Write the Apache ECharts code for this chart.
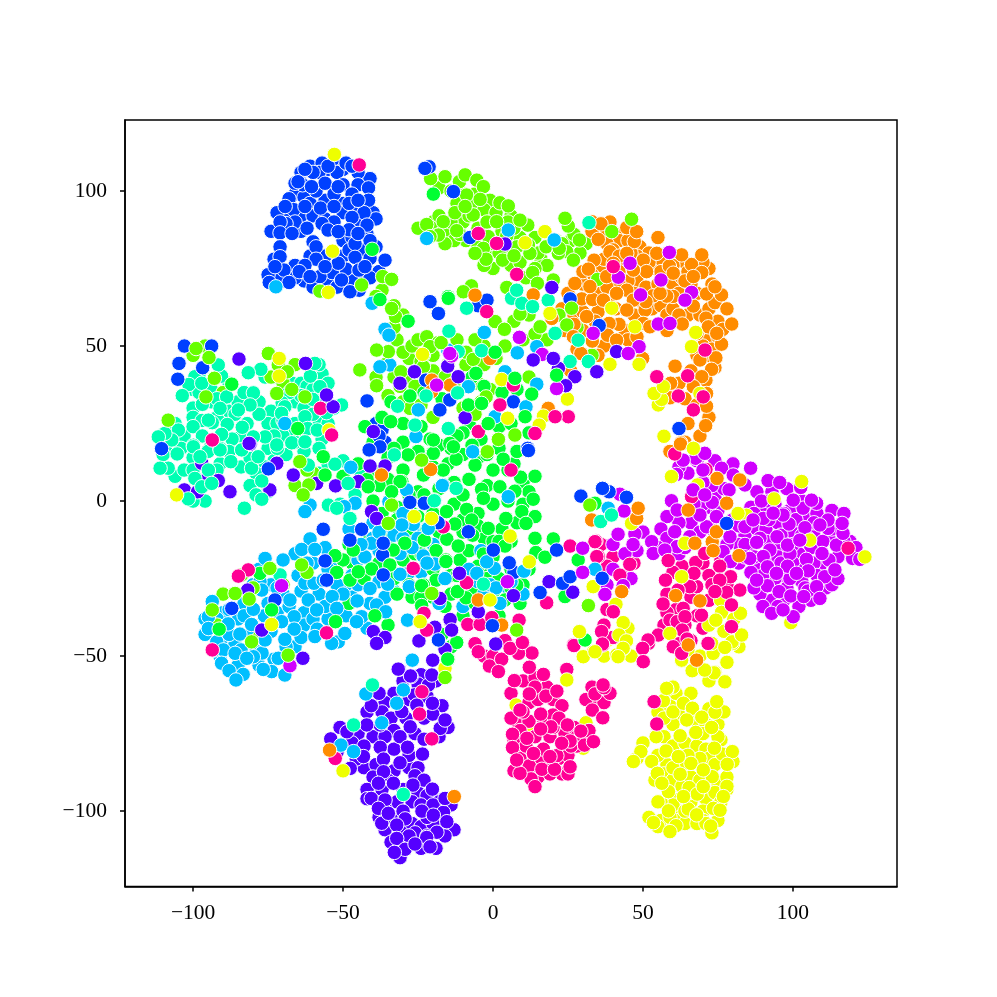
<!DOCTYPE html>
<html>
<head>
<meta charset="utf-8">
<script src="https://cdn.jsdelivr.net/npm/echarts@6/dist/echarts.min.js"></script>
<style>
  html, body { margin: 0; background: #fff; }
  #main { width: 997px; height: 997px; }
</style>
</head>
<body>
<div id="main"></div>
<script>
const xTicks = [-100, -50, 0, 50, 100];
const yTicks = [-100, -50, 0, 50, 100];

// points that sit under the others in the thick parts of each cluster
const blueDense = [[-64,106],[-61,108],[-57,109],[-53,109],[-50,107],[-44,104],[-41,104],[-66,99],[-63,98],[-61,96],[-56,97],[-50,96],[-46,94],[-40,93],[-69,93],[-64,92],[-60,92],[-56,91],[-50,93],[-44,90],[-39,91],[-72,93],[-74,87],[-68,87],[-64,87],[-50,84],[-47,85],[-42,86],[-73,78],[-70,71],[-72,72],[-66,76],[-61,79],[-56,79],[-53,72],[-50,79],[-48,81],[-43,81],[-38,74],[-39,82],[-44,71],[-41,72],[-63,71],[-60,69],[-55,70],[-52,69],[-47,71],[-75,73],[-66,72],[-39,25],[-37,23],[-40,18],[-36,19]];
const limeDense = [[-18,101],[-14,100],[-10,99],[-6,99],[-1,97],[-12,96],[-7,95],[-3,94],[1,93],[6,92],[-15,87],[-19,88],[-10,90],[-5,88],[-9,84],[-13,84],[-2,90],[3,87],[-5,82],[0,81],[6,76],[9,77],[9,85],[14,85],[16,78],[18,76],[21,84],[26,84],[31,83],[29,80],[5,81],[14,75],[11,72],[0,75],[2,80],[-25,88],[-16,83],[-3,76],[7,88],[-20,90],[-14,90],[-8,92],[-11,86],[-18,92],[5,90],[8,82],[15,80],[-1,83],[27,86],[23,83],
  [-35,55],[-32,52],[-28,46],[-24,45],[-20,47],[-15,44],[-12,52],[-3,50],[1,46],[-36,44],[-31,37],[-28,40],[-26,37],[-35,34],[-39,40],[-9,44],[-5,38],[-1,36],[-10,30],[-6,28],[-24,31],[-20,27],[4,50],[7,58],[12,60],[18,52],[10,52],[-30,60],[-37,68],[-39,66],[-33,56],[-33,63],[22,60],[28,56],[33,47],[-74,40],[-70,38],[-66,44],[-70,32],[-100,47],[-96,50],[-90,35],[-60,9],[-66,5],[-62,10],[-70,-27],[-62,-23],[-92,-40],[-80,-28],[-78,-44],[-90,-30],[-30,48],[-27,50],[-20,42],[-16,40],[-25,52],[-9,48],[-6,52],[-13,38],[-3,44],[-30,32],[-33,40],[12,40]];
const greenDense = [[-40,10],[-35,14],[-30,10],[-25,16],[-20,11],[-15,12],[-10,15],[-5,14],[0,10],[5,10],[10,6],[12,3],[-2,5],[-8,7],[-13,6],[-18,4],[-25,3],[-35,7],[-40,0],[-32,-2],[-27,-4],[-23,2],[-13,-1],[-10,2],[-5,-4],[0,-1],[5,0],[8,-7],[3,-9],[-3,-12],[-10,-10],[-18,-10],[-25,-5],[-30,-10],[-36,-9],[-42,-13],[-47,-20],[-43,-25],[-38,-20],[-30,-19],[-26,-17],[-19,-16],[-11,-19],[-8,-16],[-2,-21],[-7,-24],[-14,-24],[-20,-31],[-16,-34],[-27,-31],[-32,-30],[-7,-29],[-2,-25],[2,-25],[6,-22],[10,-27],[9,-33],[-35,-40],[-48,-33],[-10,-37],[-21,20],[-24,24],[-30,25],[-37,27],[-40,19],[-34,32],[-8,25],[-4,20],[-10,22],[2,24],[6,25],[12,22],[3,35],[8,36],[-3,37],[-7,40],[-17,33],[-23,35],[-14,17],[7,12],
  [-38,5],[-28,2],[-18,18],[-12,21],[-7,18],[-2,15],[2,17],[8,16],[14,8],[10,-1],[14,-5],[6,-13],[0,-13],[-5,-8],[-10,-6],[-20,-4],[-22,-9],[-32,-6],[-37,-4],[-28,-9],[-35,-12],[-24,-17],[-20,-22],[-28,-27],[-12,-24],[-5,-21],[0,-18],[2,-13],[-43,-18],[-48,-14],[-50,-19],[-33,-25],[-24,-31],[-14,-30],[-6,-33],[2,-37],[6,-28],[12,-22],[14,-12],[-17,-43],[-14,-47],[-30,19],[-33,17],[-45,12],[-42,7],[-50,8]];
const mintDense = [[-100,36],[-98,35],[-94,36],[-94,32],[-100,30],[-100,27],[-97,26],[-92,27],[-88,29],[-85,32],[-83,35],[-78,32],[-76,40],[-73,40],[-67,38],[-64,38],[-57,41],[-55,38],[-66,32],[-63,30],[-74,29],[-75,25],[-72,25],[-66,25],[-58,26],[-60,28],[-55,25],[-57,20],[-66,22],[-70,21],[-75,17],[-84,21],[-87,20],[-94,18],[-103,18],[-109,16],[-106,25],[-103,21],[-110,15],[-100,14],[-95,16],[-91,12],[-84,11],[-81,14],[-73,13],[-76,11],[-69,15],[-63,16],[-79,9],[-81,5],[-75,3],[-79,2],[-92,10],[-106,8],[-103,10],[-100,10],[-96,0],[-100,0],[-58,9],[-50,13],[-55,12],[-44,8],[-46,2],[-51,-1],[-58,44],[-62,37],[-57,33],[-60,36],[-98,41],[-88,38],[-86,28],[-78,28],[-70,26],[-64,34],[-53,30],[-104,17],[-88,16],[-82,25],[-100,24],[-92,33],[-68,35],[-73,21],[-66,19],[-58,17]];
const skyDense = [[-90,-44],[-86,-46],[-91,-50],[-85,-53],[-80,-46],[-78,-53],[-93,-48],[-96,-43],[-96,-38],[-90,-36],[-85,-38],[-83,-33],[-75,-33],[-72,-36],[-74,-42],[-68,-34],[-63,-36],[-63,-40],[-55,-38],[-49,-37],[-58,-30],[-65,-24],[-60,-20],[-66,-17],[-70,-19],[-56,-15],[-54,-20],[-49,-27],[-52,-27],[-47,-31],[-45,-27],[-41,-33],[-38,-26],[-33,-29],[-28,-23],[-24,-23],[-20,-14],[-25,-10],[-31,-17],[-36,-31],[-42,-41],[-40,-12],[-38,-16],[-45,-19],[-48,-9],[-78,-22],[-74,-27],[-80,-27],[-88,-35],[-84,-48],[-73,-51],[-66,-47],[-60,-38],[-18,-33],[-3,-30],[-1,-27],[-4,-16],[5,-28],[10,-30],[-10,-34],[-64,-29],[-70,-30],[-72,-28],[-81,-43],[-77,-49],[-88,-43],[-92,-38],[-83,-37],[-69,-47],[-64,-44],[-56,-34],[-50,-30],[-47,-24],[-55,-22],[-62,-20]];
const violetDense = [[-30,-58],[-24,-56],[-25,-59],[-19,-58],[-33,-62],[-28,-64],[-22,-63],[-36,-65],[-42,-68],[-37,-68],[-34,-70],[-29,-70],[-23,-70],[-17,-66],[-15,-73],[-18,-76],[-26,-75],[-33,-74],[-40,-76],[-45,-75],[-47,-78],[-51,-73],[-52,-81],[-43,-79],[-43,-86],[-39,-85],[-33,-80],[-33,-87],[-28,-86],[-40,-89],[-35,-90],[-30,-93],[-37,-93],[-25,-94],[-27,-97],[-22,-95],[-18,-97],[-14,-98],[-32,-97],[-42,-93],[-34,-102],[-38,-102],[-36,-106],[-30,-106],[-27,-104],[-24,-105],[-20,-104],[-13,-106],[-16,-108],[-26,-107],[-29,-110],[-24,-112],[-34,-110],[-31,-115],[-19,-112],[-22,-102],[-28,-82],[-31,-76],[-36,-76],[-24,-98],[-30,-100],[-28,-108],[-22,-108],[-20,-98],[-25,-86],[-42,-96],[-36,-99]];
const magentaDense = [[88,3],[93,3],[98,4],[103,0],[99,-3],[94,-1],[90,-3],[86,-2],[84,-11],[82,-14],[85,-15],[88,-9],[91,-9],[95,-7],[100,-10],[105,-5],[108,-4],[113,-3],[117,-4],[119,-13],[121,-15],[115,-18],[112,-12],[107,-11],[106,-15],[102,-17],[95,-15],[93,-20],[88,-21],[96,-24],[100,-20],[103,-26],[106,-32],[111,-28],[113,-27],[115,-25],[109,-21],[98,-28],[93,-32],[89,-30],[97,-32],[102,-34],[104,-28],[94,-25],[90,-24],[84,-14],[80,-6],[82,-8],[87,-18],[82,-20],[110,-13],[113,-9],[107,-20],[96,-11],[92,-6],[101,-6],[105,-12],[95,-18],[87,-4],[74,1],[77,4],[73,5],[70,6],[65,9],[62,11],[68,13],[74,13],[80,12],[72,-2],[75,-3],[70,-1],[67,-1],[66,-7],[62,-7],[58,-5],[56,-9],[58,-12],[55,-15],[62,-17],[64,-15],[69,-10],[73,-9],[78,-14],[50,-10],[48,-16],[44,-17],[40,-14],[43,-24],[40,-22],[38,-27],[46,-25],[91,-13],[96,-20],[100,-14],[104,-22],[97,-4],[89,-12],[86,-23],[84,-18],[92,0],[99,-17],[108,-24],[112,-19],[117,-13],[107,-7],[103,-11],[99,-25],[95,-34],[90,-34],[105,-29],[87,-28]];
const pinkDense = [[6,-62],[10,-58],[14,-57],[18,-60],[20,-64],[23,-66],[12,-65],[8,-71],[12,-71],[17,-71],[20,-69],[24,-75],[27,-73],[31,-75],[10,-80],[9,-74],[14,-76],[19,-76],[22,-83],[25,-82],[14,-84],[18,-85],[9,-83],[11,-88],[15,-89],[23,-88],[25,-88],[6,-70],[7,-77],[28,-79],[32,-74],[35,-65],[31,-64],[37,-65],[33,-60],[39,-62],[10,-46],[4,-45],[-3,-50],[0,-50],[-6,-46],[13,-49],[66,-24],[63,-21],[70,-20],[72,-24],[73,-27],[78,-27],[76,-19],[60,-23],[58,-30],[61,-35],[58,-36],[66,-31],[68,-37],[64,-40],[60,-41],[66,-45],[62,-46],[72,-32],[70,-41],[57,-40],[47,-20],[40,-18],[38,-21],[36,-14],[38,-35],[37,-40],[40,-44],[11,-79],[20,-73],[26,-79],[19,-88],[16,-83],[10,-68],[15,-64],[22,-70],[28,-76],[7,-87],[14,-60]];
const orangeDense = [[38,87],[41,86],[42,84],[38,83],[43,77],[45,84],[49,82],[52,80],[48,79],[54,75],[56,78],[60,79],[64,77],[68,75],[72,75],[60,70],[63,72],[56,74],[48,71],[51,69],[45,71],[42,74],[36,74],[33,73],[30,70],[25,67],[23,62],[27,60],[30,61],[35,61],[36,67],[39,64],[41,62],[47,60],[50,64],[53,62],[56,63],[58,60],[60,62],[65,60],[69,60],[72,62],[74,64],[78,62],[68,67],[73,70],[75,58],[72,52],[70,50],[68,47],[72,47],[74,43],[71,39],[66,42],[62,38],[64,33],[68,31],[72,27],[69,21],[65,25],[44,55],[42,57],[37,50],[30,55],[24,55],[28,49],[35,47],[45,52],[48,53],[58,55],[33,87],[55,85],[66,70],[62,67],[64,19],[59,16],[40,81],[46,80],[52,77],[60,76],[65,74],[70,77],[47,67],[55,70],[42,70],[38,69],[27,57],[34,58],[62,60],[71,59],[75,53],[73,49],[64,71],[30,74],[39,90],[37,78],[60,66],[68,54]];
const yellowDense = [[24.6,-57.5],[7.7,-65.8],[11.8,-72],[31,-71.5],[11.8,-80.8],[30.1,-79.7],[55,-68],[59,-66],[61,-62],[66,-62],[62,-69],[68,-71],[71,-72],[75,-72],[72,-67],[77,-68],[60,-72],[57,-76],[60,-79],[64,-78],[68,-79],[71,-80],[76,-84],[80,-84],[72,-83],[69,-83],[63,-85],[58,-85],[55,-82],[50,-78],[57,-88],[60,-90],[60,-96],[63,-92],[66,-89],[71,-96],[75,-91],[78,-89],[74,-94],[78,-93],[66,-97],[70,-100],[62,-100],[62,-103],[56,-103],[55,-105],[52,-102],[64,-104],[70,-103],[75,-103],[73,-107],[68,-104],[60,-98],[56,-97],[54,-90],[48,-83],[76,-77],[78,-92],[60,-60],[72,-58],[78,-52],[82,-47],[69,-50],[65,-48],[77,-42],[72,-40],[45,-41],[38,-45],[37,-50],[46,-50],[60,-86],[65,-82],[69,-90],[66,-94],[74,-85],[76,-97],[59,-102],[64,-100],[71,-104],[55,-97],[57,-70],[70,-75],[75,-76],[60,-68]];

const blue = [[-55,107],[-52,106],[-45,106],[-58,106],[-60,106],[-50,102],[-45,102],[-63.5,102],[-66,102.5],[-65,103],[-59,100],[-53,99],[-47,99],[-41.5,101],[-68,97.5],[-66.5,94],[-57.5,94.5],[-53,95],[-41.5,97],[-43,93],[-53,90],[-47,91.5],[-42,89],[-48,87.5],[-66,90],[-69,89.5],[-71,90],[-71,86.5],[-62,88],[-57,89.5],[-60,83.6],[-59,82],[-46,83],[-71,82],[-71,78.8],[-59,78],[-62.7,76],[-46,78.6],[-41,78.3],[-36,77.7],[-49,74.8],[-44.7,74.5],[-69.7,74.5],[-64.6,74],[-53.6,73.7],[-57.7,72.4],[-74.6,70.5],[-68,70.5],[-44.6,68],[-47.7,67.5],[-72.7,75.6],[-41,84],[-51.6,76.7],[-42.7,75.6],[-56,75.6],[-61,72.4],[-50.5,71.3],[-55,108],[-49,109],[-62.7,107],[-47,108],[-56,102.5],[-51.6,101.4],[-60.5,101.4],[-48,96],[-45,97],[-62.7,95],[-69.3,95],[-55,87.4],[-51.6,86.9],[-45,86.3],[-67,86.3],
  [-102.9,50],[-93.8,50],[-104.7,44.4],[-105.1,39.3],[-96.8,43],[-110.5,16.9],[-42,32.3],[-38,21],[-14.4,32.6],[-17.7,29.4],[-21,64.3],[-18.2,60.5],[-21.3,107.8],[-22.7,107.3],[-22.4,39],[-7.7,85],[-13.2,99.8],[25.7,65.2],[-5,63],[-2,64.8],[35.4,56.6],[6.8,32],[11.6,17],[62,23.4],[-56.6,-9.1],[-43.8,-9.1],[-56,-19.3],[-55.5,-25.5],[-36.8,-17.4],[-36.6,-23.8],[-87.1,-34.6],[-72.7,-31.9],[-27.7,-0.4],[-22.9,-0.7],[-18.3,-7],[-74.9,10.4],[-37.7,17.5],[-41.3,16.5],[-47.7,-12.6],[-36.6,-13.6],[11.8,16.3],[29.3,1.6],[7,-23],[5.4,-19.9],[23.2,-26.5],[15.7,-29.5],[-0.2,-40.2],[21.2,-15.8],[-18.2,-44.8],[25.7,-24.4],[0.1,-15.8],[-8.2,-9.9],[38.7,3],[44.5,1.2],[36.5,4.1],[36.4,-24.9],[77.9,-7.2]];

const lime = [[-16,104.6],[-20.8,104],[-11.2,103],[-9.3,105.2],[-5.4,103.5],[-3.2,101.4],[-8.8,98.7],[-4.3,97.3],[2.3,96.2],[5.1,95.2],[-12.7,93],[-16.6,90.1],[-6.6,92.3],[-9.3,95],[-22.1,89.2],[-18.2,85.8],[-12.1,87.2],[-21,85.3],[1.2,90.1],[-1.6,85.3],[-3.2,81.5],[-2.3,78],[-6,79.9],[3.2,77.7],[7,79.1],[4.6,85.6],[11.6,89],[9,90.6],[11.8,82.6],[12.3,79.9],[17.7,82],[25.1,88.7],[24,91.2],[28.8,84.2],[24.6,80.4],[26.8,77.7],[21.8,79.9],[22.1,81.5],[46.2,90.9],[39.6,86.9],[13.2,73.7],[14.8,70.2],[4.6,68.9],[34.9,71.5],[-7.2,69.4],[-9.9,67.5],[20.1,71.3],[24.6,56.8],[14,53.9],[0.7,57.9],[3.8,55.4],[-23.2,47.1],[-23.2,43.3],[-22.1,53],[-18.2,51.1],[-6.6,45.7],[-27.7,29.9],[-4,32],[-2.3,33.6],[9,60.3],[1.8,19.9],[7.3,21.3],[-21,49.8],[15.7,56.2],[26.2,62.2],
  [-36.8,72.4],[-33.8,71.5],[-43.8,69.7],[-57.7,67.7],[-32.5,59.5],[-33.8,62.1],[-34.9,48.2],[-38.8,48.7],[-44.4,42.3],[-30.7,41.7],[-38.8,37.2],[-17.3,51.1],[-74.9,47.6],[-71.6,43.9],[-68.6,41.7],[-67.1,36],[-72.1,34.7],[-99,49.2],[-94.7,46.3],[-95.7,33.6],[-108.3,26.1],[-92.9,39.6],[-62.7,33.6],[-1.9,15.9],[-20.4,-29.8],[7.9,-41.6],[-16,-56.9],[31.8,-33.7],[-23.8,13.2],[32.3,-1.3],[-64.4,12.7],[-61.4,5.2],[-63.3,2],[-34.9,-7.2],[-63.8,-20.6],[-83.8,-23.8],[-74.4,-21.7],[-86,-29.8],[-81.3,-31.6],[-93.6,-35.1],[-80.5,-45.4],[-68.3,-49.7],[-33.8,-1.3]];

const green = [[-20.2,15.4],[-12.3,13.5],[-6,11.6],[3.4,13.5],[9.2,7.7],[13.4,0.6],[7.3,3.2],[2.3,4.6],[-3.8,3.8],[-3.2,0.9],[-16.9,10],[-23.2,8.4],[-30.4,6.3],[-15.4,-3.4],[-8.8,-2.7],[-7.1,-6.1],[-12.7,-7.4],[-1.6,-8.8],[4.3,-5.6],[9.6,-3.4],[11,-7.2],[-6.8,-11],[-15.4,-12.3],[-22.7,-12.6],[-11.6,-14.5],[-26.6,-13.4],[-15.7,-19],[-3.2,-17.1],[4,-14.5],[20.1,-12.2],[14.3,-16.6],[17.3,-18.1],[-19,-25.5],[-23.2,-27.1],[-9,-31.2],[-11.9,-29.2],[-23.8,-33.7],[-12.1,-45.6],[-14.9,-51],[0.7,-31.4],[4,-31.9],[30.7,-44.8],[34,-0.7],[28.4,-19],[24,-30.8],[7.9,-27.1],
  [-19.9,15.4],[-28.3,14.9],[-16.6,10],[-31,6.3],[-33.8,3],[-41.6,4.6],[-15.5,-3.4],[-29.4,-13.6],[-33.3,-15.8],[-22.9,-12.6],[-52.7,-17.6],[-46.6,-15.8],[-52.1,-23],[-40.5,-21.9],[-47.7,-25.5],[-44.9,-22.8],[-34.4,-20.6],[-23.8,-27.3],[-39.4,-37],[-52.5,-38.9],[-15.7,-19.5],[-73.8,-35.1],[-91.3,-41.3],[-77.7,-23.3],[-15.1,-51],[-56.6,14.3],[-56,8.4],
  [-40.3,81.2],[-37.7,65],[-28.3,58],[-27.7,33.9],[-34.1,25.6],[-42.7,24],[-19.9,19.7],[-14.4,18.6],[-15,65.9],[-19.9,99],[-65.1,23.4],[-87.1,37.7],[-14.9,65.4],[0.7,48],[-5.7,41.2],[-8.2,31],[-1.6,25],[10.7,27.2],[12.9,34.5],[7.3,39.6],[-13.2,17.5],[21.2,40.6],[-3.8,31.5]];

const mint = [[-99.4,40.1],[-101.4,37.6],[-103.6,34],[-96.9,31.2],[-90.5,40.3],[-88.8,33.6],[-79.9,34.9],[-81,31],[-91,29.9],[-93.6,25.3],[-88.6,24.7],[-83.6,23.8],[-96.9,21],[-90.5,21.5],[-104.9,22.9],[-107.1,19.7],[-99.9,18],[-91,17],[-77.4,42.5],[-81.6,41.4],[-60.9,40.3],[-57.7,36.9],[-60.1,32.8],[-70.3,31.7],[-62.7,27.2],[-69.4,30.4],[-61.8,23.4],[-58.6,22.9],[-55.5,28.5],[-50.5,31],[-67.1,18.8],[-76,20.7],[-79.9,20.7],[-71.9,17],[-62.7,19.1],[-84.9,29.4],[-94.9,26.1],[-109.4,21.8],[-111.6,20.7],[-59.4,44.4],[-91.6,43.9],[-97.1,38],[-70.5,28.3],
  [-105.3,15.2],[-108.3,10.6],[-111,10.6],[-99.9,17.5],[-91,16.5],[-87.4,12.7],[-97.7,14.3],[-80.5,10.6],[-77.1,6.5],[-77.1,0.6],[-82.9,-2.3],[-101.6,0.7],[-94.9,10],[-83.8,16.5],[-78.3,14.3],[-72.1,18.1],[-61.6,11.6],[-52.7,11.9],[-48.3,5.7],[-54.9,-1.3],[-52.1,-2.3],[-47.7,-5.6],[-32.9,14.9],[-19.4,0.3],[-71,-23.8],[-99.4,7.3],[-97.1,4.6],[-93.8,5.7],
  [6.2,65.4],[9.6,63.8],[13.2,62.7],[18.4,64.8],[7.9,68],[20.7,54.1],[28.4,51.9],[25.7,45],[31.8,45],[-3.8,48.5],[-14.7,54.8],[-11.6,48.2],[-22.3,33.9],[-11.8,34.9],[-8.8,62.2],[-14.9,23.4],[-26,24.5],[32,89.8],[-31.8,30.6],[-12.3,4.1],[-19.6,0.1],[-3.2,-26.8],[35.9,-6.6],[39.5,-4.5],[-40.2,-59.3],[-46.5,-72.2],[-29.9,-94.6]];

const sky = [[-61,-12.2],[-63.8,-15.6],[-59.4,-15.6],[-76,-18.5],[-77.7,-26],[-77.1,-28.7],[-62.7,-26.5],[-59.7,-26.5],[-67.7,-31.9],[-61.6,-31.9],[-58.8,-35.1],[-53.6,-30.8],[-52.1,-34.6],[-56.6,-25.5],[-66.3,-37.3],[-66.3,-41.3],[-70.5,-38.9],[-58.6,-41.3],[-76.2,-37],[-79.9,-34.9],[-80.5,-39.8],[-84.4,-42.9],[-88.3,-39.6],[-93.6,-32.4],[-94.9,-37.3],[-94.9,-41.1],[-92.1,-45.4],[-89.9,-48],[-86,-49.1],[-79.9,-50.2],[-82.1,-50.7],[-90.5,-52.3],[-88,-54.7],[-83.3,-55.9],[-85.7,-57.7],[-73.8,-55],[-76.6,-54.3],[-69.4,-56.1],[-69.4,-44.6],[-71.6,-50.7],[-76,-44.8],[-51.6,-45.4],[-53.8,-45.9],[-59.4,-43.7],[-49.4,-42.7],[-43.8,-37.3],[-45.5,-38.9],[-45.3,-32.2],[-38.8,-33.5],[-35.8,-35.7],[-41,-28.2],[-35.1,-26.8],[-27.9,-27.6],[-31,-23.6],[-23.3,-17.7],[-19.4,-20.3],[-28.5,-38.4],[-27.1,-51.3],[-30.5,-7.5],[-26.6,-7.5],[-34.7,-0.2],[-46,-0.7],[-49.6,-1.8],[-47.4,10.9],[-61,-1.3],[-62.7,-3.4],[-16.6,5.2],[-28.8,3.6],[-40.5,-13.6],[-42.7,-18],
  [-35,-8],[-30,-4],[-25,-12],[-40,-7],[-33,-11],[-27,-15],[-44,-14],[-38,-10],[-22,-20],[-16,-25],[-5,-26],[1,-28],[-8,-22],[6,-26],[-30,-12],
  [-36,55.4],[-34.7,53.5],[-34.4,43.9],[-37.7,43.3],[-40.3,63.8],[-72.4,69.1],[-69.4,25],[-25.7,20.8],[-15.1,48.7],[20.4,84.2],[-2.9,54.4],[8.1,47.8],[4,41.7],[-8.2,36.9],[11,30.4],[14.6,37.7],[0.7,27.2],[-24.9,29.4],[14.6,49.8],[5.1,87.4],[-22.1,84.7],[-6.8,15.9],[-16.9,5],[-30.4,-7.7],[-21.6,-8.8],[-5.4,-23.3],[0.4,-21.7],[10.3,-22.6],[5.1,1.4],[-2.1,-19.6],[2.3,-33],[38.4,-2.3],[34,-22],[-26.9,-51.3],[-42.4,-62.2],[-50.7,-78.7],[-29.9,-60.9],[-46.5,-80.8],[-37.1,-71.5],[-32.1,-65.2]];

const violet = [[-27.3,-56.6],[-21.5,-59.3],[-20.1,-51.3],[-31.3,-54.2],[-20.4,-56.1],[-26.2,-62.5],[-38,-62],[-40.6,-66],[-30.4,-67.9],[-20.1,-68.7],[-20.2,-65.2],[-37.6,-72.2],[-42.1,-72.2],[-48.7,-74.4],[-54.1,-76.7],[-17.6,-73.3],[-23,-76.8],[-28.5,-79.4],[-37.6,-79.4],[-23.5,-81.6],[-45.6,-83.2],[-43.2,-82.4],[-36.5,-83.2],[-31,-84.4],[-36.5,-87.3],[-38.2,-91],[-26,-88.6],[-23,-90],[-20.2,-92.9],[-26.7,-91.6],[-40.6,-95.9],[-36,-96.4],[-38.2,-99.1],[-23.7,-100],[-16.5,-100.4],[-19.9,-101.3],[-29.3,-102.5],[-37.1,-103.9],[-32.1,-104.5],[-18.7,-106.8],[-22.1,-108.5],[-32.1,-108.8],[-29.3,-112.3],[-32.9,-113.3],[-26,-110.6],[-21,-111.5],[-15.4,-103.4],[-16,-95.9],[-33.2,-91],[-34.9,-100.7],[-47.6,-86.2],[-27.6,-72.8],[-16,-70.6],[-25.4,-65.8],[-63.4,-50.7],
  [-97.1,12.2],[-95.5,7],[-91.6,6.6],[-87.7,3],[-102.9,3.6],[-98.5,3],[-81,18.3],[-72.1,12.2],[-74.4,3.6],[-58.8,5.7],[-52.5,4.9],[-44.9,6.3],[-41,11.3],[-36,11.3],[-40.5,-3.4],[-38.8,-5.6],[-66.6,8.4],[-39.9,-42.1],[-36,-44],[-38.8,-45.9],[-24.7,-45.1],[-19.4,-40.7],[-17.7,-31.4],[-14.4,-38.4],[-77.1,-41.6],[-81.8,-28.7],[-27.5,-56.4],[-16,-47.8],[-31.6,-54.2],[18.7,-26],[26.6,-29.4],[6.8,-30.5],[-11.2,-23.3],[-14.3,-38.2],[-13.8,-41.6],[-4.9,-35.7],[0.9,-46.1],[19.6,68.9],[-15.1,43.5],[-11.6,40.1],[34.6,41.7],[41.2,48.2],[4,82.9],[21.8,42.8],[27.3,40.1],[24.2,37.2],[-26.2,41.7],[-9.3,26.9],[13.4,45.5],[20.1,46],[-31,38],[-84.7,45.8],[-62.5,44.4],[-53.3,30.4],[-81.3,18.6],[-55.5,34.2],[-39.9,22.4]];

const magenta = [[91.7,6.6],[95.6,6],[102.6,4.4],[89.5,0],[84,5.2],[78.7,3.6],[85.9,10.6],[76.2,10.6],[67.6,13.8],[63.4,13.2],[61.2,8.6],[73.1,-0.4],[59.5,0.1],[61.4,-2.9],[71.2,-8.3],[60.6,-9.9],[61.4,-14.7],[65.6,-11.5],[79,-11.5],[76.7,-16.3],[79.2,-19.5],[52.9,-13.1],[47.3,-10.6],[41.7,-10.7],[53.4,-16.9],[43.4,-27.3],[37.3,-30.1],[42.3,2.2],[43.7,-3.2],[46.7,-14],[57.3,-15.8],[87.9,-13.3],[90.1,-5.6],[94.7,-11.5],[98.7,-7.4],[103.4,-2.3],[104,-8.6],[98.2,-14.2],[92.3,-15.8],[90.1,-17.9],[91.5,-21.2],[98.2,-21],[104.5,-18.8],[109.7,-16.9],[105.1,-22.5],[110.6,-24.4],[107.9,-27.6],[114.5,-14.2],[111.7,-8.8],[111.7,-6.1],[116.7,-10.4],[116.4,-7.2],[119.9,-18.5],[122.3,-18.8],[91.5,-27.3],[95.4,-29.2],[99.3,-30.6],[103.6,-30.8],[92.9,-36.2],[85.6,-18.5],[101.2,-23.3],[96.7,-4.5],[102.3,-12.6],[109,-7.7],[84,-8.3],[93.4,-3.9],[86.7,-6.1],[107.9,-0.7],[106.2,0.3],[100.1,0.3],[114,-22.2],[109,-31.4],[100.1,-37.3],[96.7,-35.1],[87.9,-25.5],[94.5,-23.3],[80.1,8.4],[70.6,15.4],[66.7,3.6],[70.6,2],[74.5,-5],[70,10],[69,-4.5],
  [58.8,80.2],[56,71.3],[66.2,67.3],[41.8,72.2],[55.1,57.1],[48.7,49.8],[45.1,47.6],[16.4,47.3],[8.8,52.8],[49.2,66.5],[64,64.8],[-13.8,46.8],[-18.8,37.4],[21.2,36.3],[33.4,54.1],[59,57.3],[45.7,76.7],[-70.5,-27.3],[-67.7,-53.1],[-14.4,47.6],[29.9,-15.2],[29.9,-23],[4.8,-26]];

const pink = [[-4.9,-48.6],[-1.2,-53.2],[2.9,-51],[8.5,-49.1],[5.7,-47.5],[1.8,-55],[12.1,-53.6],[16.8,-55.9],[24.6,-54.3],[7.1,-57.9],[12.1,-62.2],[17.6,-62.9],[21.3,-61.3],[9,-67.4],[15.9,-68.7],[34,-62.2],[37,-60.2],[33.1,-67.4],[36.6,-69.9],[19.3,-72.8],[24.8,-72.2],[29.3,-74.2],[6.5,-75.2],[11.3,-76.5],[15.9,-73.5],[25.7,-77.4],[30.5,-78.7],[6.5,-79.5],[16.8,-80],[21.3,-82.1],[12.1,-85.4],[16.3,-86.5],[20.5,-86.5],[25.7,-85.7],[12.7,-89.6],[9,-87.8],[14,-92.1],[33.5,-77.6],[22.9,-78.1],[13.5,-81.4],[7.9,-83.5],[19,-82.4],[26.8,-46.4],[36.6,-46.4],[51.8,-45.9],
  [-8.4,-39.8],[-4.3,-39.8],[8.7,-38.4],[9.8,-45.6],[27,-46.6],[45.6,-20.4],[35.1,-17.9],[42.3,-23.9],[34.3,-12.9],[57.5,-25.5],[67.6,-19.8],[67.9,-27.6],[75.6,-21],[79.2,-24.4],[82.3,-28.7],[77.9,-29.4],[56.7,-33.2],[63.4,-34.6],[69.5,-36.8],[59,-38.4],[61.4,-38.9],[64,-37.3],[63.1,-41.6],[64.7,-44.5],[55.1,-43.2],[51.7,-44.8],[49.9,-47.5],[50.1,-51.8],[36.2,-42.1],[36.5,-46.1],[58.4,-19.2],[71,10.2],[60.6,15.2],[66.2,1.4],[67,-23.3],[75.6,-25.5],[70.6,-16.9],[65.6,-27.6],[74,-29.2],[61.7,-28.7],[60.1,-47],[71.7,-45.9],[79.5,-40.5],[118.4,-15.2],[40.1,-35.7],[79.5,-33.5],[62.9,-49.1],[36.7,-59.3],
  [54.6,-71.9],[53.7,-64.7],[-52.6,-83],[-24.5,-68.7],[-23.7,-61.5],[-20.4,-76.7],[-22.1,-41.6],[17.9,-32.8],[-8.8,-26.3],[-26.6,-21.7],[6,10],[25.7,-14.5],[34,-13.1],[34.6,-17.9],[-16.6,-8.3],[-0.4,-37.6],[7.9,73.1],[66.8,29.4],[70.7,48.7],[64.9,40.4],[54.6,40.1],[61.8,33.9],[25.1,27.2],[20.7,27.2],[14,21.8],[6.8,37.4],[-2.1,61.1],[-4.9,86.3],[40.1,75.6],[70.1,33.6],[1.2,83.1],[-4.9,22.4],[2.3,31],[-44.6,108.4],[-57.5,29.9],[-53.8,21.3],[-93.6,19.7],[-81.6,-22.2],[-84.9,-24.2],[-93.6,-48],[-23,-36.2],[-55.5,-42.5]];

const orange = [[32.9,90.1],[36,89.4],[44.6,88.2],[35.1,84.4],[47.1,83.7],[39,80.4],[50.1,77.7],[42.1,79],[33.7,77.7],[31.8,74.8],[51.2,74],[58.8,75.8],[66.2,76.3],[69.6,73.7],[62.9,79.4],[69.6,79.4],[47.9,86.9],[44.6,68],[27.3,70.2],[29.6,65.2],[33.2,65],[36.8,64.8],[19.6,58.9],[31.2,59.5],[38.7,57.3],[50.7,61.6],[50.1,57.3],[57.9,66.1],[53.4,66.2],[51,64.3],[63.1,57.1],[66.8,62.9],[71.2,66.8],[76.6,55.4],[79.6,57.1],[76.2,50.6],[71.8,56.2],[74.3,46.2],[72.9,42.5],[69.6,40.1],[60.7,43.5],[59.2,38],[66.8,36.9],[59,33.3],[71.2,30.6],[70.9,24.3],[62.6,18.8],[38.2,53.5],[33.1,51.6],[29.3,47.6],[25.9,42],[49.9,46],[26.8,53],[76.2,66.5],[74,69.1],[60.1,73.5],[41.2,67],[32.3,69.2],[37.9,72.4],[46.8,74.5],[52.3,56.2],[55.7,67],[46.8,64.8],[44.6,61.6],[40.1,76.7],[44.6,79.9],[54.6,79.9],[66.8,72.4],[74.6,54.1],[69,45.5],[41.2,51.9],[71.2,34.7],
  [18.4,29.9],[-6,66.4],[13.4,66.5],[-20.4,39],[-14.3,37.4],[-1,46],[-20.5,35.3],[-37.2,8.4],[-20.8,10.2],[-4.9,-31.9],[2.9,-40],[32.9,-6.1],[62.5,18.4],[65.1,-2.9],[74.7,7.3],[47.9,-5.6],[67.3,-13.6],[73.1,-13.1],[73.4,-16],[82,-17.6],[60.9,-30.5],[69,-32.2],[67.9,-51.3],[65.1,-46.4],[42.9,-29.2],[77.9,-0.7],[74.5,-9.9],[82.3,6.8],[48.4,-2.3],[-12.9,-95.3],[-54.5,-80.3]];

const yellow = [[57.9,-60.9],[56.8,-64.4],[63.5,-65.2],[66.5,-66.8],[74,-68.1],[69.6,-69.7],[64.6,-70.6],[72.9,-73],[67.6,-74.6],[62.4,-75.7],[54.4,-76],[49.3,-80.8],[46.8,-84],[52.9,-84],[57.7,-80.6],[66,-84.6],[76.5,-81.6],[79.8,-80.8],[78.1,-84.9],[73.8,-79.7],[62.4,-88.1],[54.8,-87.8],[73.1,-88.9],[70.1,-86.7],[58.5,-93.7],[65.4,-92.4],[68.1,-94.5],[76.8,-95.3],[58.5,-99.9],[65.1,-99.3],[73.5,-99.1],[67.9,-101.2],[53.5,-103.7],[61,-104.7],[72.6,-104.8],[59,-106.6],[75.7,-99.7],[61.8,-82.4],[70.1,-92.1],[63.5,-95.3],[56.3,-91],[77.4,-58.2],[74,-55.2],[66.6,-54.5],[62.9,-51.5],[73.5,-49.1],[79.9,-45.9],[33.5,-48.6],[30.1,-50.2],[41.3,-49.6],[43.5,-47.5],[74.6,-64.7],
  [75.9,-31.9],[76.2,-35.9],[74.3,-38.4],[80.3,-38.1],[82.5,-36.2],[79.7,-45.4],[73.4,-49.1],[72.9,-45.9],[77.3,-47.2],[62.9,-51.3],[66.4,-54.7],[73.7,-55.4],[77.3,-58.3],[70.6,-54.5],[57.9,-60.4],[43.4,-39.2],[42,-43.2],[44.5,-45.1],[43.4,-47.5],[41.7,-50.2],[34,-48.6],[41,-33.3],[-50,-87],[-16,-53.9],[82.9,-43.2],[59,-42.7],
  [99.3,-39.2],[93.7,0.7],[105.6,-12.6],[84.5,-4.6],[81.7,-4],[59.5,7.9],[68.2,5.2],[102.9,6.3],[124,-18],[62.9,-24.4],[64,-13.6],[33.4,-27.6],[46.2,-7.2],[17.3,86.9],[10.7,83.3],[39.6,62.2],[47.3,56.2],[67.6,54.4],[66.2,49.8],[39,44.1],[48.7,44.1],[24.8,32.9],[16.8,27.4],[15.4,24.5],[57,20.9],[55.1,31],[56.2,32.8],[53.7,34.7],[56.8,36.9],[2.9,39.2],[4.9,26.7],[19,60.5],[66.8,17],[69,34.7],[-52.9,111.8],[-54.9,67.3],[-53.5,80.6],[-71.3,40.3],[-23.5,47.3],[-54.7,22.9],[-71.3,46],[-73.8,-39.8],[-26.3,-5],[-20.5,-5.6],[-105.5,2],[5.7,-11.3],[12.1,-19.6],[-1,-31.9],[28.8,-42.1],[24.6,-57.7],[-24.3,-38.9]];

const classes = [
  yellowDense.concat(yellow), limeDense.concat(lime), greenDense.concat(green), mintDense.concat(mint), skyDense.concat(sky),
  blueDense.concat(blue), violetDense.concat(violet), magentaDense.concat(magenta), pinkDense.concat(pink), orangeDense.concat(orange)
];
const colors = ['#EEFF00', '#66FF00', '#00FF33', '#00FFB3', '#00BFFF', '#0040FF', '#5500FF', '#D000FF', '#FF0095', '#FF8C00'];

// the original draws points in mixed order, so sort by position in each list
let points = [];
classes.forEach((list, c) => {
  list.forEach((p, i) => {
    points.push({ value: [p[0], p[1], c], order: (i + 1) / list.length });
  });
});
points.sort((a, b) => a.order - b.order);

function minusLabel(v) {
  return String(v).replace('-', '\u2212');
}

const myechart = echarts.init(document.getElementById('main'));
const tickStyle = { show: true, length: 5, lineStyle: { color: '#000', width: 1.5 } };

myechart.setOption({
  animation: false,
  backgroundColor: '#fff',
  grid: { left: 125, right: 100, top: 120, bottom: 110.5, show: true, borderColor: '#000', borderWidth: 1.5, backgroundColor: 'transparent' },
  xAxis: {
    type: 'value', min: -122.7, max: 134.7,
    splitLine: { show: false },
    axisLine: { show: true, onZero: false, lineStyle: { color: '#000', width: 1.5 } },
    axisTick: Object.assign({ customValues: xTicks }, tickStyle),
    axisLabel: { customValues: xTicks, color: '#000', fontFamily: 'Liberation Serif', fontSize: 21.5, margin: 16, formatter: minusLabel }
  },
  yAxis: {
    type: 'value', min: -124.3, max: 122.9,
    splitLine: { show: false },
    axisLine: { show: true, onZero: false, lineStyle: { color: '#000', width: 1.5 } },
    axisTick: Object.assign({ customValues: yTicks }, tickStyle),
    axisLabel: { customValues: yTicks, color: '#000', fontFamily: 'Liberation Serif', fontSize: 21.5, margin: 18, formatter: minusLabel }
  },
  series: [{
    type: 'scatter',
    symbolSize: 14.5,
    data: points,
    itemStyle: {
      color: function (p) { return colors[p.value[2]]; },
      borderColor: '#fff',
      borderWidth: 1,
      opacity: 1
    }
  }]
});
</script>
</body>
</html>
